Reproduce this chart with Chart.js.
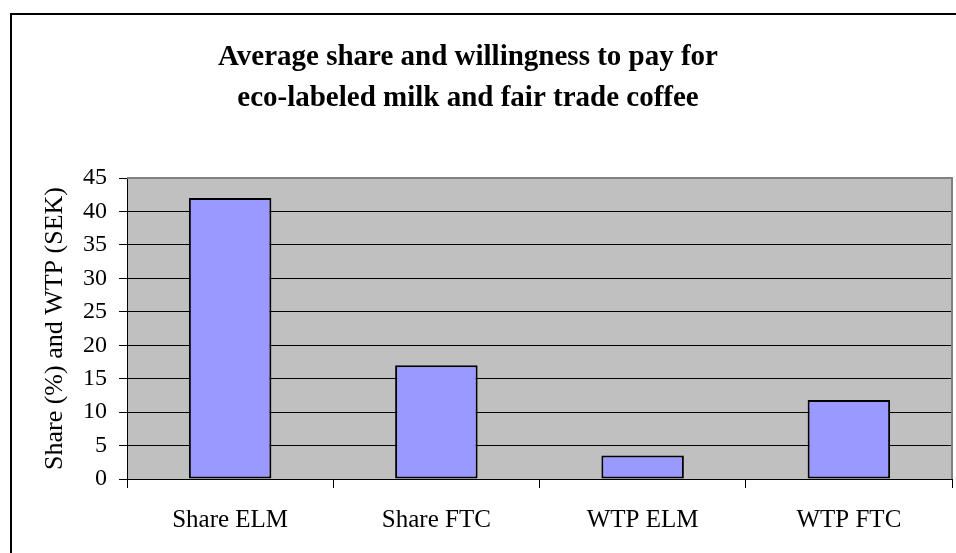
<!DOCTYPE html>
<html>
<head>
<meta charset="utf-8">
<script src="https://cdn.jsdelivr.net/npm/chart.js@4/dist/chart.umd.min.js"></script>
<style>
  html, body { margin: 0; padding: 0; background: #fff; }
  #wrap { width: 956px; height: 553px; }
</style>
</head>
<body>
<div id="wrap"><canvas id="c" width="956" height="553"></canvas></div>
<script>
// Chart data
const categories = ['Share ELM', 'Share FTC', 'WTP ELM', 'WTP FTC'];
const values = [42, 17, 3.5, 11.8];
const yMin = 0;
const yMax = 45;
const yStep = 5;
const titleLines = ['Average share and willingness to pay for', 'eco-labeled milk and fair trade coffee'];
const yAxisTitle = 'Share (%) and WTP (SEK)';

const SERIF = "'Liberation Serif', 'Times New Roman', serif";

// Outer frame, grey plot background and grey top/right plot border
const plotFrame = {
  id: 'plotFrame',
  afterLayout(chart) {
    // centre the title within the outer frame rather than the full canvas
    const t = chart.titleBlock;
    if (t) {
      t.left = 0;
      t.right = 936;
      t.width = 936;
    }
  },
  beforeDraw(chart) {
    const { ctx, chartArea: a } = chart;
    ctx.save();
    ctx.fillStyle = '#ffffff';
    ctx.fillRect(0, 0, chart.width, chart.height);
    ctx.strokeStyle = '#000000';
    ctx.lineWidth = 2;
    ctx.beginPath();
    ctx.moveTo(11, chart.height + 5);
    ctx.lineTo(11, 14);
    ctx.lineTo(chart.width + 5, 14);
    ctx.stroke();
    ctx.fillStyle = '#c0c0c0';
    ctx.fillRect(a.left, a.top, a.right - a.left, a.bottom - a.top);
    ctx.restore();
  },
  beforeDatasetsDraw(chart) {
    const { ctx, chartArea: a } = chart;
    ctx.save();
    ctx.strokeStyle = '#808080';
    ctx.lineWidth = 2;
    ctx.beginPath();
    ctx.moveTo(a.left, a.top);
    ctx.lineTo(a.right, a.top);
    ctx.lineTo(a.right, a.bottom);
    ctx.stroke();
    ctx.restore();
  }
};

new Chart(document.getElementById('c'), {
  type: 'bar',
  data: {
    labels: categories,
    datasets: [{
      data: values,
      backgroundColor: '#9999ff',
      borderColor: '#000000',
      borderWidth: 2,
      borderSkipped: false,
      barPercentage: 0.4,
      categoryPercentage: 1.0
    }]
  },
  options: {
    responsive: false,
    animation: false,
    devicePixelRatio: 1,
    layout: { padding: { left: 0, right: 4, top: 0, bottom: 0 } },
    plugins: {
      legend: { display: false },
      tooltip: { enabled: false },
      title: {
        display: true,
        text: titleLines,
        color: '#000000',
        font: { family: SERIF, size: 29, weight: 'bold', lineHeight: '41px' },
        padding: { top: 37, bottom: 59 }
      }
    },
    scales: {
      x: {
        offset: true,
        grid: {
          display: true,
          offset: true,
          drawOnChartArea: false,
          drawTicks: true,
          tickLength: 9,
          tickColor: '#000000',
          lineWidth: 1
        },
        border: { display: true, color: '#000000', width: 1 },
        ticks: {
          color: '#000000',
          font: { family: SERIF, size: 25 },
          padding: 17,
          maxRotation: 0
        },
        afterFit(scale) { scale.height = 74; }
      },
      y: {
        min: yMin,
        max: yMax,
        grid: {
          color: (c) => (c.tick && c.tick.value === yMax) ? 'rgba(0,0,0,0)' : '#000000',
          tickColor: '#000000',
          tickLength: 8,
          lineWidth: 1
        },
        border: { display: true, color: '#000000', width: 1 },
        ticks: {
          stepSize: yStep,
          color: '#000000',
          font: { family: SERIF, size: 24 },
          padding: 12
        },
        title: {
          display: true,
          text: yAxisTitle,
          color: '#000000',
          font: { family: SERIF, size: 26 },
          padding: { top: 39.5, bottom: 0 }
        },
        afterFit(scale) { scale.width = 127; }
      }
    }
  },
  plugins: [plotFrame]
});
</script>
</body>
</html>
